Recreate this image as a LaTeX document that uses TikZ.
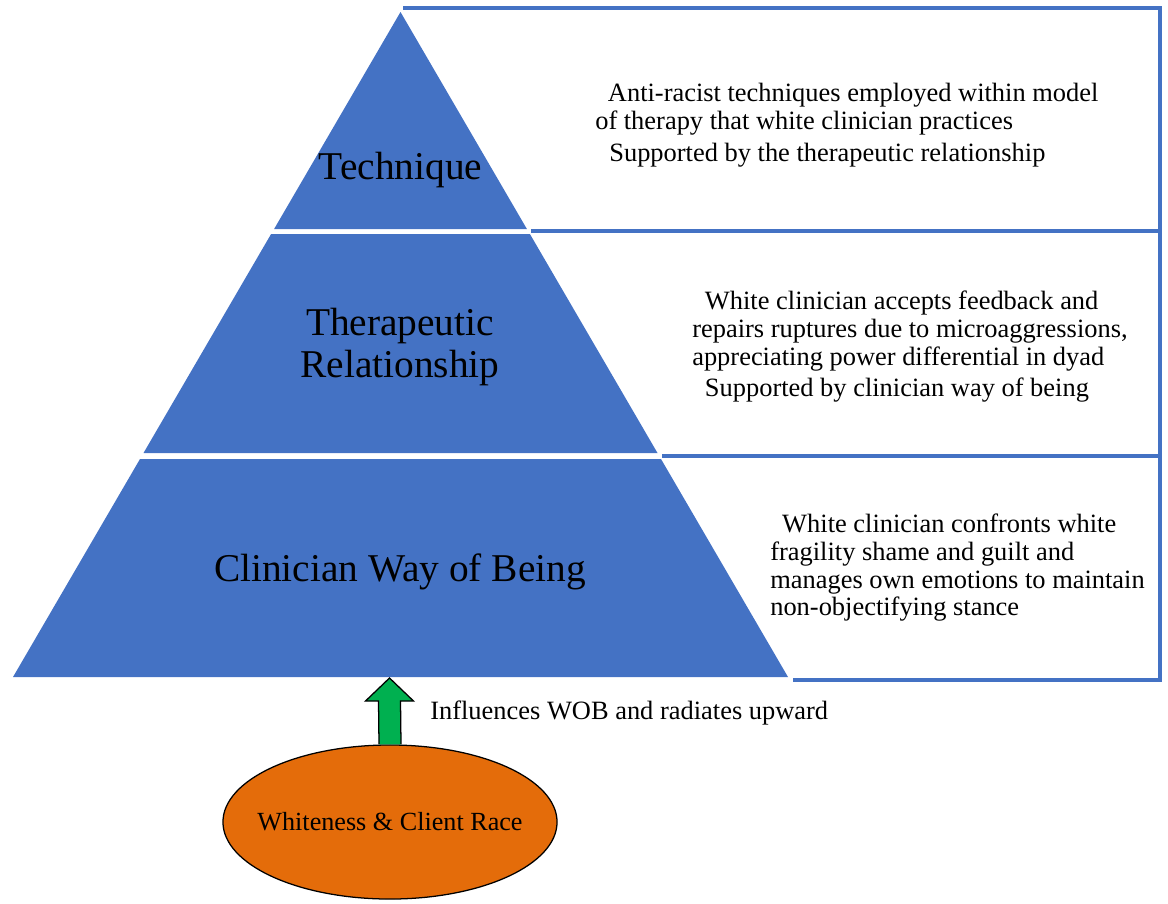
\documentclass[tikz,border=0pt]{standalone}
\usepackage{fontspec}
\setmainfont{Liberation Serif}
\usetikzlibrary{shapes.geometric,calc,positioning}
\definecolor{pyrblue}{HTML}{4472C4}
\definecolor{raceorange}{HTML}{E46C0A}
\definecolor{upgreen}{HTML}{00B050}

\begin{document}
\begin{tikzpicture}[x=0.025cm,y=-0.025cm]
  \tikzstyle{level}=[font=\fontsize{28}{29.5}\selectfont,align=center,inner sep=0pt]
  \tikzstyle{note}=[font=\fontsize{18.8}{19.6}\selectfont,align=left,anchor=north west,inner sep=0pt]
  \tikzstyle{frame}=[draw=pyrblue,line width=2.6pt]
  \useasboundingbox (0,0) rectangle (1168,903);
  % frames on the right
  \draw[frame] (403,8) -- (1160,8) -- (1160,680) -- (793,680);
  \draw[frame] (531,231) -- (1160,231);
  \draw[frame] (662,456) -- (1160,456);
  % pyramid
  \fill[pyrblue] (400.5,12) -- (526.9,229) -- (274.1,229) -- cycle;
  \fill[pyrblue] (271.1,234) -- (529.9,234) -- (657.5,453) -- (143.5,453) -- cycle;
  \fill[pyrblue] (140,459) -- (661,459) -- (788,677) -- (13,677) -- cycle;
  \node[level] (tech) at (400.5,170) {Technique};
  \node[level] (rel) at (400,347) {Therapeutic\\Relationship};
  \node[level] (wob) at (400,572) {Clinician Way of Being};
  % notes
  \node[note] (techtxt) at (595,83)
    {\hspace*{9pt}Anti-racist techniques employed within model\\
     of therapy that white clinician practices\\[3.5pt]
     \hspace*{10pt}Supported by the therapeutic relationship};
  \node[note] (reltxt) at (692,291)
    {\hspace*{9pt}White clinician accepts feedback and\\
     repairs ruptures due to microaggressions,\\
     appreciating power differential in dyad\\[3pt]
     \hspace*{9pt}Supported by clinician way of being};
  \node[note] (wobtxt) at (770,514)
    {\hspace*{8.5pt}White clinician confronts white\\
     fragility shame and guilt and\\
     manages own emotions to maintain\\
     non-objectifying stance};
  % base
  \node[draw,ellipse,fill=raceorange,line width=0.9pt,minimum width=8.35cm,minimum height=3.85cm,
    inner sep=0pt,font=\fontsize{18.6}{20}\selectfont] (race) at (390,822)
    {\makebox[0pt]{Whiteness \& Client Race}};
  \coordinate (tip) at (389.5,678);
  \draw[fill=upgreen,line width=0.9pt,line join=miter] ($(race.north)+(-11,0)$) -- ($(tip)+(-11,23)$)
    -- ($(tip)+(-24,23)$) -- (tip) -- ($(tip)+(24,23)$) -- ($(tip)+(11,23)$) -- ($(race.north)+(11,0)$);
  \node[note,anchor=west] (infl) at (430,713) {Influences WOB and radiates upward};
\end{tikzpicture}
\end{document}
